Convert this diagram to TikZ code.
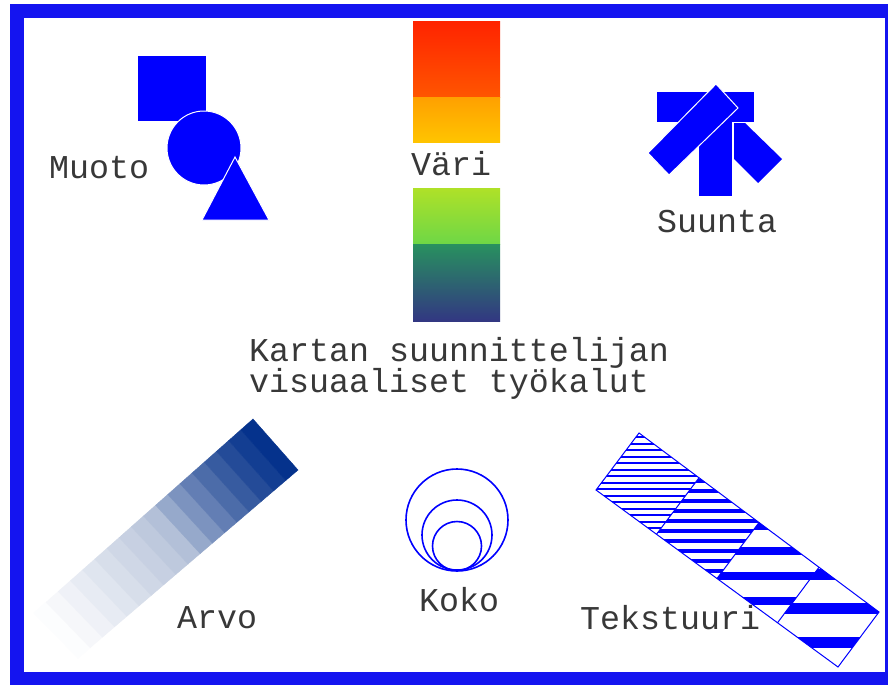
\documentclass[tikz,border=0pt]{standalone}
\usepackage{fontspec}
\setmonofont{Liberation Mono}
\usetikzlibrary{calc}
\definecolor{fblue}{RGB}{20,20,240}
\definecolor{pblue}{RGB}{0,0,255}
\definecolor{dblue}{RGB}{5,50,140}
\definecolor{gblue}{RGB}{110,135,180}
\tikzset{
  lbl/.style={anchor=base west, inner sep=0pt, font=\fontsize{33.3}{30}\selectfont\ttfamily, text=black!78},
  shapefill/.style={fill=pblue, draw=white, line width=1pt},
  ring/.style={draw=pblue, line width=1.6pt},
  stripe/.style={fill=pblue}
}
\begin{document}
\begin{tikzpicture}[x=1pt,y=-1pt]
\useasboundingbox (0,0) rectangle (888,685);
% frame
\fill[fblue] (10,4) rectangle (888,685);
\fill[white] (24,18) rectangle (885,672);

% Muoto
\fill[pblue] (138,56) rectangle (206,121);
\path[shapefill] (204,148) circle (37pt);
\path[shapefill] (235,157) -- (269,220) -- (202,220) -- cycle;

% Vari
\shade[top color={rgb,255:red,255;green,36;blue,0}, bottom color={rgb,255:red,255;green,85;blue,0}] (413,22) rectangle (500,97);
\shade[top color={rgb,255:red,255;green,160;blue,0}, bottom color={rgb,255:red,255;green,196;blue,0}] (413,97) rectangle (500,142);
\shade[top color={rgb,255:red,175;green,225;blue,40}, bottom color={rgb,255:red,110;green,215;blue,70}] (413,188) rectangle (500,244);
\shade[top color={rgb,255:red,40;green,145;blue,95}, bottom color={rgb,255:red,50;green,55;blue,130}] (413,244) rectangle (500,321);

% Suunta
\fill[pblue] (657,92) rectangle (754,122);
\fill[pblue] (699,122) rectangle (732,196);
\fill[pblue] (734,123) -- (745,123) -- (782,159) -- (758,183) -- (734,159) -- cycle;
\path[shapefill] (716,84) -- (738,108) -- (669,175) -- (648,153) -- cycle;

% Arvo
\coordinate (aL) at (34,613);
\coordinate (aT) at (253,419);
\coordinate (aB) at (78,658);
\coordinate (aR) at (298,470);
\foreach \i in {0,...,17}{
  \pgfmathsetmacro\ta{\i/18}
  \pgfmathsetmacro\tb{(\i+1)/18}
  \pgfmathsetmacro\p{2+98*(\i/17)^1.1}
  \pgfmathsetmacro\q{max(0,min(100,2*\p-100))}
  \colorlet{bandc}{gblue!\p!white}
  \colorlet{bandc}{dblue!\q!bandc}
  \filldraw[fill=bandc, draw=bandc, line width=0.4pt]
    ($(aL)!\ta!(aT)$) -- ($(aL)!\tb!(aT)$) -- ($(aB)!\tb!(aR)$) -- ($(aB)!\ta!(aR)$) -- cycle;
}

% Koko
\draw[ring] (457,520) circle (51pt);
\draw[ring] (457,535) circle (35pt);
\draw[ring] (457,546) circle (24.5pt);

% Tekstuuri
\coordinate (tT) at (639,433);
\coordinate (tL) at (596,490);
\coordinate (tB) at (838,667);
\coordinate (tR) at (879,612);
\begin{scope}
  \clip ($(tT)!0!(tR)$) -- ($(tT)!0.25!(tR)$) -- ($(tL)!0.25!(tB)$) -- ($(tL)!0!(tB)$) -- cycle;
  \foreach \y in {436,442.5,...,545} \fill[stripe] (590,\y) rectangle (890,\y+2.2);
\end{scope}
\begin{scope}
  \clip ($(tT)!0.25!(tR)$) -- ($(tT)!0.5!(tR)$) -- ($(tL)!0.5!(tB)$) -- ($(tL)!0.25!(tB)$) -- cycle;
  \foreach \y in {479,489,...,590} \fill[stripe] (590,\y) rectangle (890,\y+3.6);
\end{scope}
\begin{scope}
  \clip ($(tT)!0.5!(tR)$) -- ($(tT)!0.75!(tR)$) -- ($(tL)!0.75!(tB)$) -- ($(tL)!0.5!(tB)$) -- cycle;
  \foreach \y in {522,547,...,640} \fill[stripe] (590,\y) rectangle (890,\y+8);
\end{scope}
\begin{scope}
  \clip ($(tT)!0.75!(tR)$) -- ($(tT)!1!(tR)$) -- ($(tL)!1!(tB)$) -- ($(tL)!0.75!(tB)$) -- cycle;
  \foreach \y in {569,603,...,680} \fill[stripe] (590,\y) rectangle (890,\y+11);
\end{scope}
\draw[pblue, line width=1pt] (tT) -- (tR) -- (tB) -- (tL) -- cycle;
\foreach \t in {0.25,0.5,0.75}
  \draw[pblue, line width=1pt] ($(tT)!\t!(tR)$) -- ($(tL)!\t!(tB)$);

% labels
\node[lbl] (muoto) at (49,178) {Muoto};
\node[lbl] (vari) at (411,175) {Väri};
\node[lbl] (suunta) at (657,232) {Suunta};
\node[lbl] (kartan1) at (249,361) {Kartan suunnittelijan};
\node[lbl] (kartan2) at (249,392) {visuaaliset työkalut};
\node[lbl] (arvo) at (177,628) {Arvo};
\node[lbl] (koko) at (419,611) {Koko};
\node[lbl] (tekstuuri) at (580,629) {Tekstuuri};
\end{tikzpicture}
\end{document}
